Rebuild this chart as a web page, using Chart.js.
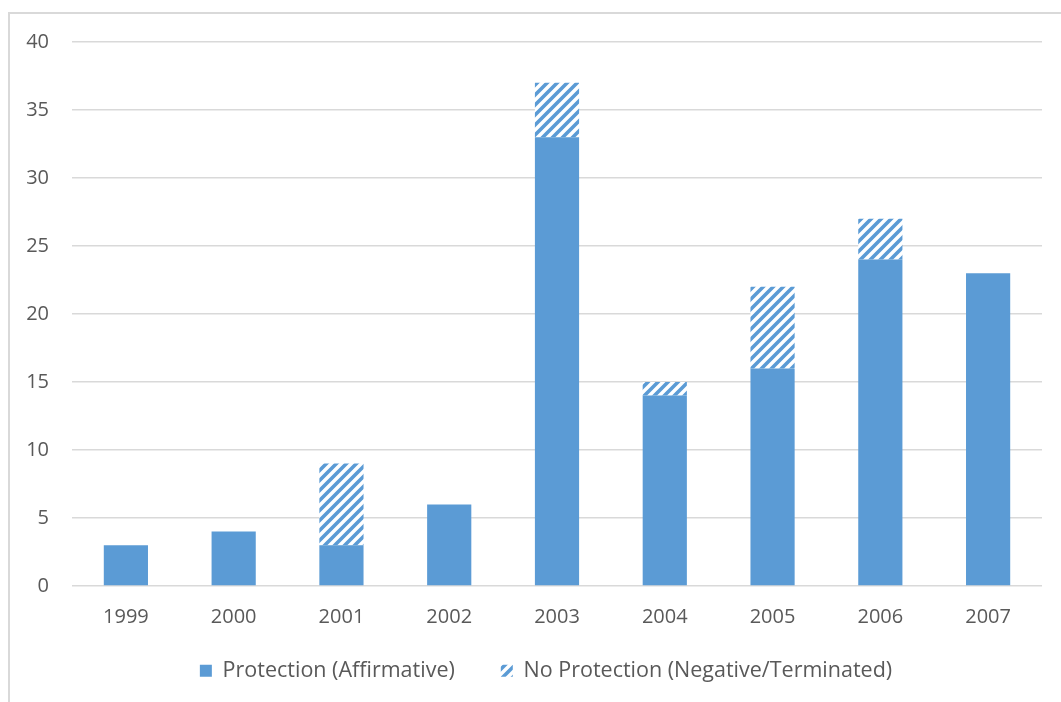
<!DOCTYPE html>
<html>
<head>
<meta charset="utf-8">
<script src="https://cdn.jsdelivr.net/npm/chart.js@4.4.1/dist/chart.umd.min.js"></script>
<style>
  html, body { margin: 0; padding: 0; background: #ffffff; }
  #wrap { position: relative; width: 1061px; height: 702px; }
</style>
</head>
<body>
<div id="wrap"><canvas id="chart" width="1061" height="702"></canvas></div>
<script>
// Years on the category axis
const years = ['1999', '2000', '2001', '2002', '2003', '2004', '2005', '2006', '2007'];
// Cases ending with protection in place
const protectionAffirmative = [3, 4, 3, 6, 33, 14, 16, 24, 23];
// Cases ending without protection, stacked above
const noProtection = [0, 0, 6, 0, 4, 1, 6, 3, 0];
// Value-axis ticks
const yTicks = [0, 5, 10, 15, 20, 25, 30, 35, 40];

const BLUE = '#5b9bd5';
const TEXT = '#595959';
const GRID = '#d9d9d9';
const FONT = '"Open Sans", Lato, sans-serif';

// Upward diagonal stripe fill for the second series
function makeHatch() {
  const c = document.createElement('canvas');
  c.width = 10; c.height = 10;
  const g = c.getContext('2d');
  g.fillStyle = '#ffffff';
  g.fillRect(0, 0, 10, 10);
  g.strokeStyle = BLUE;
  g.lineWidth = 3.6;
  g.lineCap = 'square';
  g.beginPath();
  g.moveTo(-5, 5); g.lineTo(5, -5);
  g.moveTo(0, 10); g.lineTo(10, 0);
  g.moveTo(5, 15); g.lineTo(15, 5);
  g.stroke();
  return g.createPattern(c, 'repeat');
}
const hatch = makeHatch();

// Thin frame on the left and top edges of the chart box
const framePlugin = {
  id: 'frame',
  beforeDraw(chart) {
    const ctx = chart.ctx;
    ctx.save();
    ctx.strokeStyle = GRID;
    ctx.lineWidth = 2;
    ctx.beginPath();
    ctx.moveTo(9, 702);
    ctx.lineTo(9, 13);
    ctx.lineTo(1061, 13);
    ctx.stroke();
    ctx.restore();
  }
};

// Place the legend row: wide gap between entries, row centred under the plot
const legendPlace = {
  id: 'legendPlace',
  afterLayout(chart) {
    const lg = chart.legend;
    if (!lg) return;
    lg.left += 25; lg.right += 25;
    lg.top = chart.chartArea.bottom + 28;
    lg.height = 80;
    lg.bottom = lg.top + lg.height;
  }
};

new Chart(document.getElementById('chart'), {
  type: 'bar',
  data: {
    labels: years,
    datasets: [
      {
        label: 'Protection (Affirmative)',
        data: protectionAffirmative,
        backgroundColor: BLUE,
        borderWidth: 0
      },
      {
        label: 'No Protection (Negative/Terminated)',
        data: noProtection,
        backgroundColor: hatch,
        borderWidth: 0
      }
    ]
  },
  options: {
    responsive: false,
    animation: false,
    devicePixelRatio: 1,
    layout: { padding: { left: 0, right: 19, top: 42, bottom: 12 } },
    datasets: { bar: { barPercentage: 0.41, categoryPercentage: 1.0 } },
    scales: {
      x: {
        stacked: true,
        grid: { display: false, drawTicks: false },
        border: { display: false },
        ticks: { color: TEXT, font: { family: FONT, size: 20 }, padding: 19, maxRotation: 0 },
        afterFit(scale) { scale.height = 64; }
      },
      y: {
        stacked: true,
        min: 0,
        max: 40,
        afterBuildTicks(scale) { scale.ticks = yTicks.map(v => ({ value: v })); },
        grid: { color: GRID, lineWidth: 1.6, drawTicks: false },
        border: { display: false },
        ticks: { color: TEXT, font: { family: FONT, size: 20 }, padding: 23 },
        afterFit(scale) { scale.width = 72; }
      }
    },
    plugins: {
      legend: {
        position: 'bottom',
        maxHeight: 40,
        labels: {
          color: TEXT,
          font: { family: FONT, size: 21.5 },
          boxWidth: 12,
          boxHeight: 12,
          padding: 46
        }
      },
      tooltip: { enabled: false }
    }
  },
  plugins: [framePlugin, legendPlace]
});
</script>
</body>
</html>
